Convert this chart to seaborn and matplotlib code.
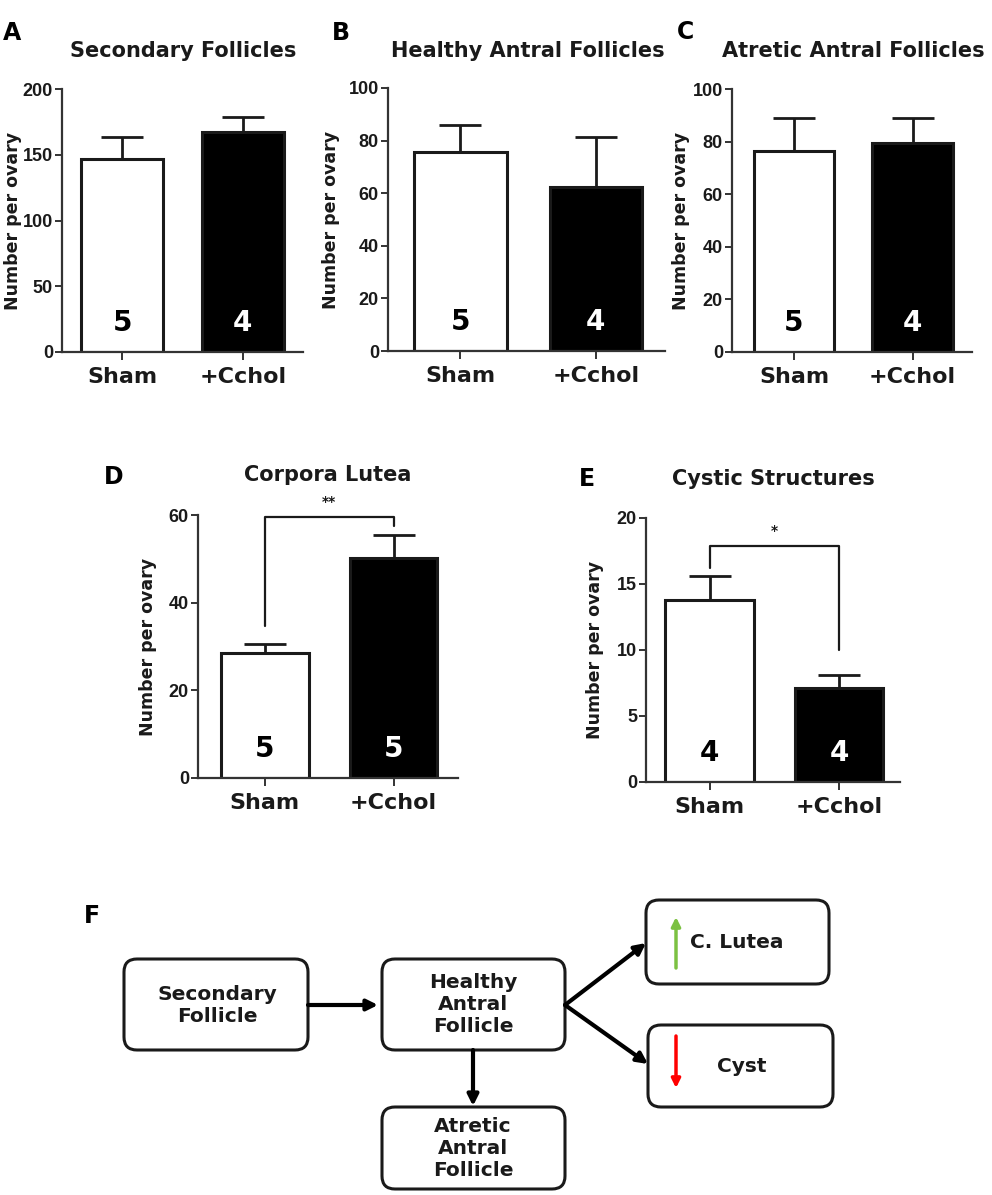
import matplotlib
matplotlib.use("Agg")
import matplotlib.pyplot as plt
from matplotlib.patches import FancyBboxPatch
import numpy as np
import pandas as pd
import seaborn as sns

sns.set_theme(style="ticks")
plt.rcParams["font.family"] = ["DejaVu Sans"]
plt.rcParams["font.weight"] = "bold"

W, H = 992, 1195
INK = "#1a1a1a"
SPINE = "#333333"

# ─── data ─────────────────────────────────────────────────────────────────────
groups = ["Sham", "+Cchol"]

secondary_mean = [147, 167]
secondary_sem = [16.5, 11.5]
secondary_n = [5, 4]

healthy_mean = [75.5, 62.5]
healthy_sem = [10.5, 19.0]
healthy_n = [5, 4]

atretic_mean = [76.5, 79.5]
atretic_sem = [12.5, 9.5]
atretic_n = [5, 4]

lutea_mean = [28.5, 50.2]
lutea_sem = [2.0, 5.2]
lutea_n = [5, 5]
lutea_bracket = [34.7, 59.5, 57.5]     # left leg end, top, right leg end
lutea_star = "**"

cystic_mean = [13.8, 7.1]
cystic_sem = [1.8, 1.0]
cystic_n = [4, 4]
cystic_bracket = [16.2, 17.9, 10.0]
cystic_star = "*"

# ─── layout in pixels: left, right, top(=ymax), bottom(=0) ────────────────────
panels = [
    dict(letter="A", title="Secondary Follicles", mean=secondary_mean, sem=secondary_sem,
         n=secondary_n, ymax=200, step=50, box=(62, 303, 89, 352), xlim=(-0.5, 1.5),
         letter_xy=(12, 33), title_xy=(183, 51), ylab_x=13),
    dict(letter="B", title="Healthy Antral Follicles", mean=healthy_mean, sem=healthy_sem,
         n=healthy_n, ymax=100, step=20, box=(388, 665, 88, 351), xlim=(-0.535, 1.51),
         letter_xy=(341, 33), title_xy=(528, 51), ylab_x=331),
    dict(letter="C", title="Atretic Antral Follicles", mean=atretic_mean, sem=atretic_sem,
         n=atretic_n, ymax=100, step=20, box=(732, 972, 89, 352), xlim=(-0.523, 1.5),
         letter_xy=(686, 32), title_xy=(853, 51), ylab_x=681),
    dict(letter="D", title="Corpora Lutea", mean=lutea_mean, sem=lutea_sem,
         n=lutea_n, ymax=60, step=20, box=(198, 458, 515, 778), xlim=(-0.52, 1.5),
         letter_xy=(114, 477), title_xy=(328, 475), ylab_x=148,
         bracket=lutea_bracket, star=lutea_star),
    dict(letter="E", title="Cystic Structures", mean=cystic_mean, sem=cystic_sem,
         n=cystic_n, ymax=20, step=5, box=(646, 900, 518, 782), xlim=(-0.49, 1.47),
         letter_xy=(587, 479), title_xy=(773, 479), ylab_x=595,
         bracket=cystic_bracket, star=cystic_star),
]


def fx(px):
    return px / W


def fy(py):
    return 1 - py / H


fig = plt.figure(figsize=(W / 100, H / 100), dpi=100)


def bar_panel(p):
    l, r, t, b = p["box"]
    ax = fig.add_axes([fx(l), fy(b), (r - l) / W, (b - t) / H])
    df = pd.DataFrame({"group": groups, "value": p["mean"]})
    sns.barplot(data=df, x="group", y="value", hue="group", palette=["white", "black"],
                edgecolor=INK, linewidth=2.2, width=0.68, errorbar=None,
                legend=False, ax=ax, zorder=2)
    ax.errorbar(range(len(groups)), p["mean"], yerr=[np.zeros(len(groups)), p["sem"]],
                fmt="none", ecolor=INK, elinewidth=2, capsize=15, capthick=2, zorder=1)

    ax.set_xlim(*p["xlim"])
    ax.set_ylim(0, p["ymax"])
    ax.set_yticks(np.arange(0, p["ymax"] + 1, p["step"]))
    ax.set_xlabel("")
    ax.set_ylabel("")
    ax.set_facecolor("none")
    for s in ("top", "right"):
        ax.spines[s].set_visible(False)
    for s in ("left", "bottom"):
        ax.spines[s].set_color(SPINE)
        ax.spines[s].set_linewidth(1.6)
    ax.tick_params(axis="y", length=5, width=1.4, color=SPINE, pad=1.5,
                   labelsize=13, labelcolor=INK)
    ax.tick_params(axis="x", length=5.5, width=1.4, color=SPINE, pad=5,
                   labelsize=16, labelcolor=INK)
    for lab in ax.get_xticklabels():
        lab.set_fontweight("bold")
    for lab in ax.get_yticklabels():
        lab.set_fontweight("bold")
        lab.set_family(["Liberation Sans", "DejaVu Sans"])

    # group sizes inside bars
    for i, n in enumerate(p["n"]):
        ax.text(i, p["ymax"] * 0.11, str(n), ha="center", va="center", fontsize=20,
                fontweight="bold", color="black" if i == 0 else "white", zorder=3)

    # significance bracket
    if "bracket" in p:
        y0, ytop, y1 = p["bracket"]
        ax.plot([0, 0, 1, 1], [y0, ytop, ytop, y1], color=INK, lw=1.6,
                clip_on=False, zorder=3)
        ax.text(0.5, ytop + p["ymax"] * 0.03, p["star"], ha="center", va="bottom",
                fontsize=10, fontweight="bold", color=INK, clip_on=False)

    fig.text(fx(p["letter_xy"][0]), fy(p["letter_xy"][1]), p["letter"], ha="center",
             va="center", fontsize=17, fontweight="bold", color="black")
    fig.text(fx(p["title_xy"][0]), fy(p["title_xy"][1]), p["title"], ha="center",
             va="center", fontsize=15, fontweight="bold", color=INK)
    fig.text(fx(p["ylab_x"]), fy((t + b) / 2), "Number per ovary", rotation=90,
             ha="center", va="center", fontsize=12.5, fontweight="bold", color=INK)


for p in panels:
    bar_panel(p)

# ─── F: schematic ─────────────────────────────────────────────────────────────
boxes = {
    "secondary": dict(rect=(124, 308, 959, 1050), text="Secondary\nFollicle", txt=(217, 1006)),
    "healthy": dict(rect=(382, 565, 959, 1050), text="Healthy\nAntral\nFollicle", txt=(473, 1005)),
    "atretic": dict(rect=(382, 565, 1107, 1189), text="Atretic\nAntral\nFollicle", txt=(473, 1148)),
    "lutea": dict(rect=(646, 829, 900, 984), text="C. Lutea", txt=(737, 943)),
    "cyst": dict(rect=(648, 833, 1025, 1107), text="Cyst", txt=(742, 1067)),
}
links = [((308, 1005), (378, 1005)), ((473, 1050), (473, 1106)),
         ((565, 1005), (646, 943)), ((565, 1005), (648, 1064))]

axf = fig.add_axes([0, 0, 1, (H - 880) / H])
axf.set_xlim(0, W)
axf.set_ylim(H, 880)
axf.axis("off")

for b in boxes.values():
    x0, x1, y0, y1 = b["rect"]
    axf.add_patch(FancyBboxPatch((x0, y0), x1 - x0, y1 - y0,
                                 boxstyle="round,pad=0,rounding_size=13",
                                 fc="white", ec=INK, lw=2.2))
    axf.text(*b["txt"], b["text"], ha="center", va="center", fontsize=14.5,
             fontweight="bold", color=INK, linespacing=1.2)

for start, end in links:
    axf.annotate("", xy=end, xytext=start,
                 arrowprops=dict(arrowstyle="-|>", lw=3, color="black",
                                 mutation_scale=16, shrinkA=0, shrinkB=0))

axf.annotate("", xy=(676, 917), xytext=(676, 968),
             arrowprops=dict(arrowstyle="-|>", lw=2.5, color="#7cc142",
                             mutation_scale=13, shrinkA=0, shrinkB=0))
axf.annotate("", xy=(676, 1088), xytext=(676, 1036),
             arrowprops=dict(arrowstyle="-|>", lw=2.5, color="#ff0000",
                             mutation_scale=13, shrinkA=0, shrinkB=0))

fig.text(fx(92), fy(916), "F", ha="center", va="center", fontsize=17,
         fontweight="bold", color="black")

fig.savefig("out.png", dpi=100)
